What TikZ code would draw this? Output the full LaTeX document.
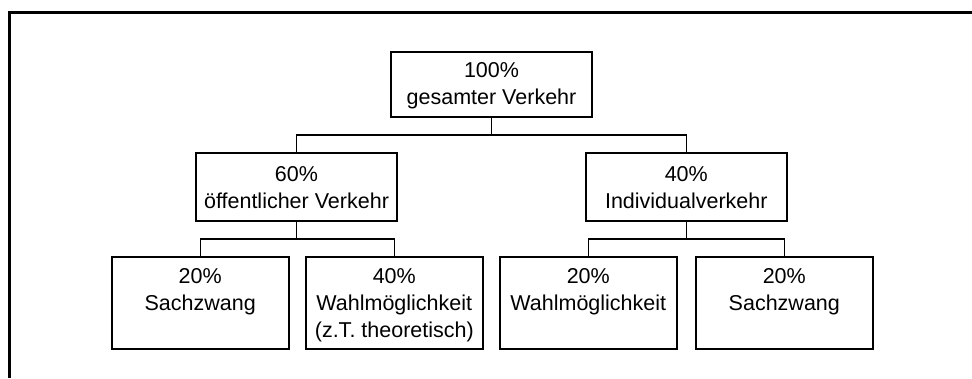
\documentclass[tikz,border=0pt]{standalone}
\usepackage{fontspec}
\setmainfont{Liberation Sans}
\newcommand{\bxt}[4]{\parbox[c][#2][t]{#1}{\centering\fontsize{21.5}{27}\selectfont\vspace*{#3}#4\par}}
\tikzset{
  bx/.style={draw, line width=1.8pt, inner sep=0pt, outer sep=0pt},
  conn/.style={line width=1.2pt},
  frameline/.style={line width=3pt}
}
\begin{document}
\begin{tikzpicture}[x=1pt, y=-1pt]
\useasboundingbox (0,0) rectangle (972,378);
% frame
\draw[frameline] (972,12.5) -- (9.5,12.5) -- (9.5,378);
% boxes
\node[bx] (top) at (491.5,84.5) {\bxt{201.5pt}{65.6pt}{10.8pt}{100\%\\gesamter Verkehr}};
\node[bx] (midL) at (296.5,187.2) {\bxt{201pt}{67.7pt}{13.3pt}{60\%\\öffentlicher Verkehr}};
\node[bx] (midR) at (686.3,187.2) {\bxt{200.7pt}{67.7pt}{13.3pt}{40\%\\Individualverkehr}};
\node[bx] (b1) at (200.2,303.3) {\bxt{177pt}{92pt}{10.7pt}{20\%\\Sachzwang}};
\node[bx] (b2) at (394.3,303.3) {\bxt{176.7pt}{92pt}{10.7pt}{40\%\\Wahlmöglichkeit\\(z.T. theoretisch)}};
\node[bx] (b3) at (588.3,303.3) {\bxt{176.7pt}{92pt}{10.7pt}{20\%\\Wahlmöglichkeit}};
\node[bx] (b4) at (784.3,303.3) {\bxt{176.7pt}{92pt}{10.7pt}{20\%\\Sachzwang}};
% junctions
\coordinate (j0) at (491.5,135);
\coordinate (jL) at (296.5,239);
\coordinate (jR) at (686.3,239);
% connectors
\draw[conn] (top.south) -- (j0);
\draw[conn] (midL.north) |- (j0) -| (midR.north);
\draw[conn] (midL.south) -- (jL);
\draw[conn] (b1.north) |- (jL) -| (b2.north);
\draw[conn] (midR.south) -- (jR);
\draw[conn] (b3.north) |- (jR) -| (b4.north);
\end{tikzpicture}
\end{document}
